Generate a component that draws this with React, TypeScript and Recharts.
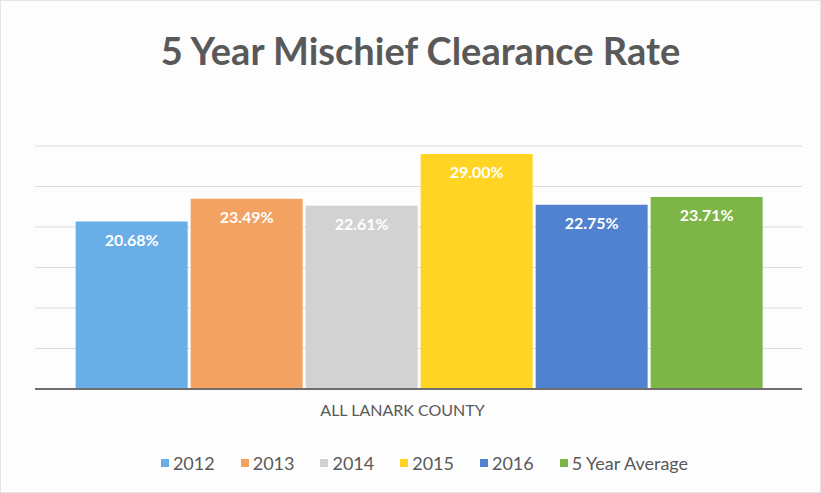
import { BarChart, Bar, XAxis, YAxis, CartesianGrid, Legend, LabelList } from 'recharts'

const categories = ['ALL LANARK COUNTY']
const seriesNames = ['2012', '2013', '2014', '2015', '2016', '5 Year Average']
const seriesValues = [20.68, 23.49, 22.61, 29.0, 22.75, 23.71]
const seriesColors = ['#6aaee8', '#f3a262', '#d2d2d2', '#ffd423', '#5082d0', '#7db646']
const yTicks = [0, 5, 10, 15, 20, 25, 30]

const data = categories.map((name) => {
  const row: Record<string, string | number> = { name }
  seriesNames.forEach((s, i) => {
    row[s] = seriesValues[i]
  })
  return row
})

const font = 'Lato, "Open Sans", sans-serif'

function LegendContent() {
  return (
    <div style={{ display: 'flex', justifyContent: 'center', gap: 26, fontFamily: font, fontSize: 18, color: '#595959', marginLeft: 12 }}>
      {seriesNames.map((s, i) => (
        <div key={s} style={{ display: 'flex', alignItems: 'center' }}>
          <div style={{ width: 8, height: 8, background: seriesColors[i], marginRight: 4 }}></div>
          <span>{s}</span>
        </div>
      ))}
    </div>
  )
}

export default function App() {
  return (
    <div style={{ position: 'fixed', top: 0, left: 0, width: 821, height: 493, background: '#fdfdfd', border: '1px solid #e4e4e4', boxSizing: 'border-box' }}>
      <div style={{ position: 'absolute', top: 26, left: 9, width: 821, textAlign: 'center', fontFamily: font, fontWeight: 700, fontSize: 38, color: '#595959' }}>
        5 Year Mischief Clearance Rate
      </div>
      <BarChart width={819} height={491} data={data} margin={{ top: 145, right: 18, bottom: 0, left: 34 }} barGap={3} barCategoryGap="5.3%">
        <CartesianGrid vertical={false} stroke="#dcdcdc" />
        <YAxis hide domain={[0, 30]} ticks={yTicks} />
        <XAxis
          dataKey="name"
          tickLine={false}
          axisLine={{ stroke: '#6e6e6e', strokeWidth: 2 }}
          tick={{ fill: '#595959', fontSize: 16, fontFamily: font, dx: -16 }}
          tickMargin={10}
          height={63}
        />
        <Legend verticalAlign="bottom" height={40} content={LegendContent} />
        {seriesNames.map((s, i) => (
          <Bar key={s} dataKey={s} fill={seriesColors[i]} isAnimationActive={false}>
            <LabelList
              dataKey={s}
              position="insideTop"
              offset={13}
              formatter={(v: number) => v.toFixed(2) + '%'}
              style={{ fill: '#ffffff', fontSize: 16, fontWeight: 700, fontFamily: font }}
            />
          </Bar>
        ))}
      </BarChart>
    </div>
  )
}
